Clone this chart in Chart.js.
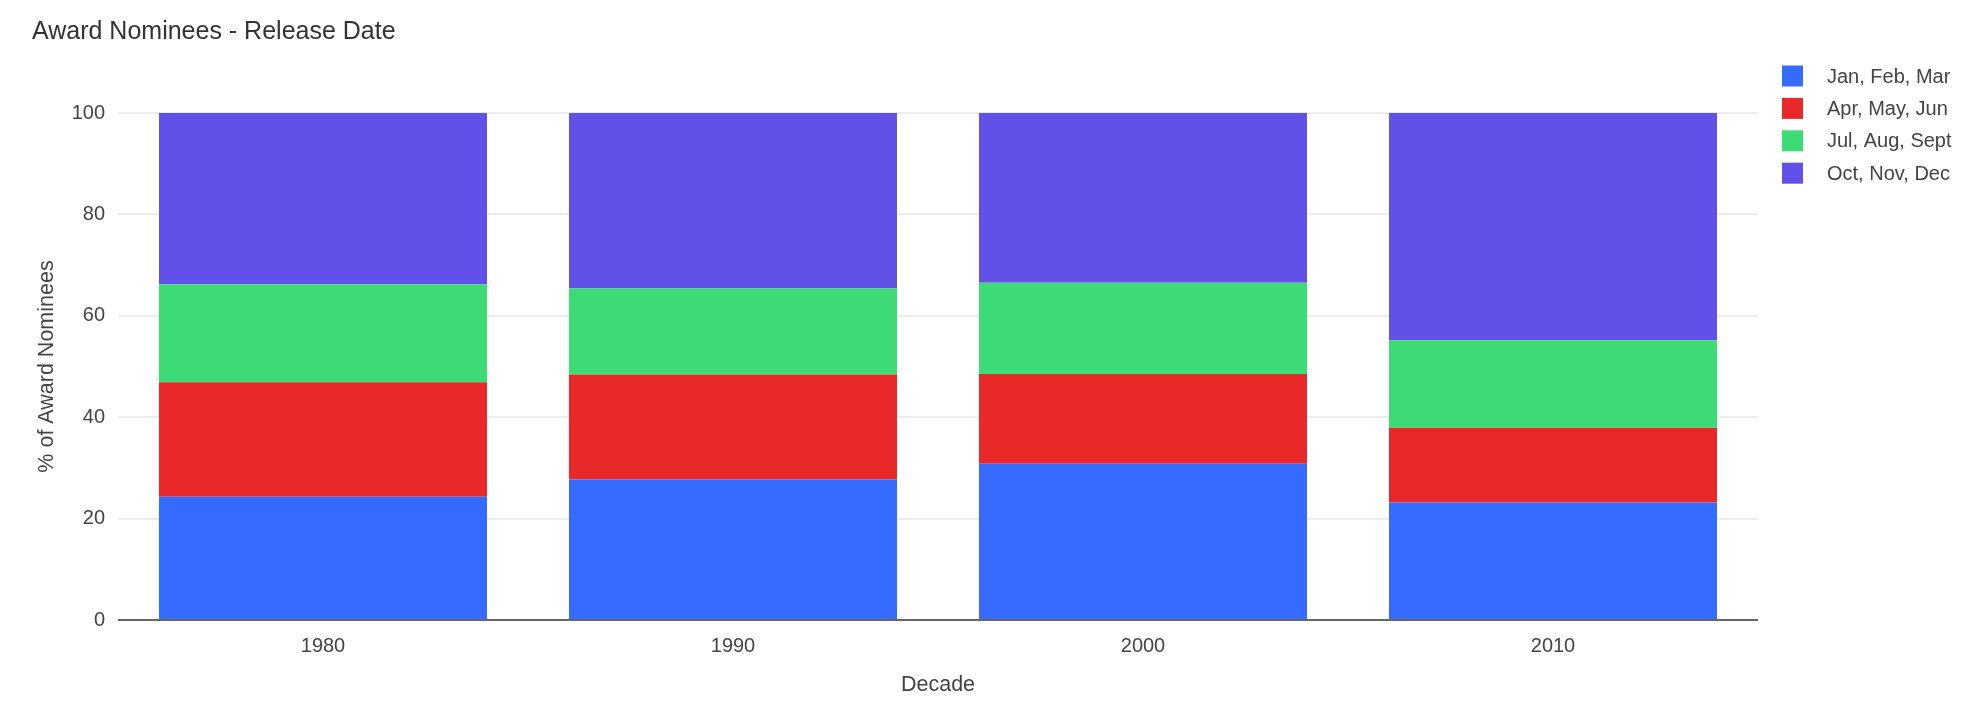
<!DOCTYPE html>
<html lang="en">
<head>
<meta charset="UTF-8">
<title>Award Nominees - Release Date</title>
<script src="https://cdn.jsdelivr.net/npm/chart.js@4.4.1/dist/chart.umd.min.js"></script>
<style>
  html, body { margin: 0; padding: 0; background: #fff; }
  #wrap { width: 1984px; height: 709px; }
</style>
</head>
<body>
<div id="wrap"><canvas id="chart" width="1984" height="709"></canvas></div>
<script>
const decades = ['1980', '1990', '2000', '2010'];
const seriesNames = ['Jan, Feb, Mar', 'Apr, May, Jun', 'Jul, Aug, Sept', 'Oct, Nov, Dec'];
const janFebMar = [24.3, 27.7, 30.8, 23.2];
const aprMayJun = [22.6, 20.7, 17.7, 14.7];
const julAugSep = [19.3, 17.0, 18.0, 17.3];
const octNovDec = [33.8, 34.6, 33.5, 44.8];
const yTicks = [0, 20, 40, 60, 80, 100];
const colors = ['#356cff', '#e92929', '#3cdb76', '#6151e8'];

const font = 'Liberation Sans, Arial, Helvetica, sans-serif';

// legend drawn by hand so the box/text spacing matches
const sideLegend = {
  id: 'sideLegend',
  afterDraw(chart) {
    const ctx = chart.ctx;
    const x = chart.chartArea.right + 24;
    ctx.save();
    ctx.font = '20px ' + font;
    ctx.textBaseline = 'middle';
    ctx.textAlign = 'left';
    chart.data.datasets.forEach((ds, i) => {
      const cy = 76 + i * 32.4;
      ctx.fillStyle = ds.backgroundColor;
      ctx.fillRect(x, cy - 10.5, 21, 21);
      ctx.fillStyle = '#444';
      ctx.fillText(ds.label, x + 45, cy + 1);
    });
    ctx.restore();
  }
};

const values = [janFebMar, aprMayJun, julAugSep, octNovDec];

new Chart(document.getElementById('chart'), {
  type: 'bar',
  data: {
    labels: decades,
    datasets: seriesNames.map((name, i) => ({
      label: name,
      data: values[i],
      backgroundColor: colors[i],
      borderWidth: 0,
      categoryPercentage: 0.8,
      barPercentage: 1
    }))
  },
  options: {
    responsive: false,
    animation: false,
    layout: { padding: { top: 0, left: 32, right: 226, bottom: 0 } },
    plugins: {
      legend: { display: false },
      tooltip: { enabled: false },
      title: {
        display: true,
        text: 'Award Nominees - Release Date',
        align: 'start',
        color: '#333',
        font: { family: font, size: 25, weight: 'normal' },
        padding: { top: 17, bottom: 66 }
      }
    },
    scales: {
      x: {
        stacked: true,
        grid: { display: false, drawTicks: false },
        border: { display: false },
        ticks: { color: '#444', font: { family: font, size: 20 }, padding: 14 },
        title: {
          display: true, text: 'Decade', color: '#444',
          font: { family: font, size: 21.5 }, padding: { top: 0, bottom: 11 }
        },
        afterFit(scale) { scale.height = 89; }
      },
      y: {
        stacked: true,
        min: 0, max: 100,
        afterBuildTicks(scale) { scale.ticks = yTicks.map(v => ({ value: v })); },
        grid: {
          drawTicks: false,
          lineWidth: 2,
          color: ctx => ctx.tick && ctx.tick.value === 0 ? '#666' : '#ececec'
        },
        border: { display: false },
        ticks: { color: '#444', font: { family: font, size: 20 }, padding: 13 },
        title: {
          display: true, text: '% of Award Nominees', color: '#444',
          font: { family: font, size: 21.5 }, padding: { top: 2, bottom: 0 }
        },
        afterFit(scale) { scale.width = 86; }
      }
    }
  },
  plugins: [sideLegend]
});
</script>
</body>
</html>
